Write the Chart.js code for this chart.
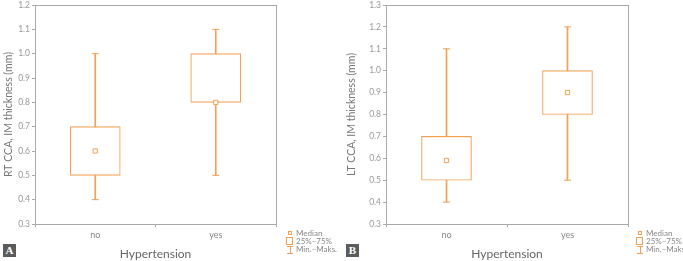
<!DOCTYPE html>
<html>
<head>
<meta charset="utf-8">
<script src="https://cdn.jsdelivr.net/npm/chart.js@4/dist/chart.umd.min.js"></script>
<style>
  body { margin: 0; background: #fff; width: 683px; height: 261px; position: relative; overflow: hidden; font-family: Lato, "Open Sans", sans-serif; }
  .wrap { position: absolute; top: 0; height: 261px; }
  .legend { position: absolute; font-size: 8px; color: #888; line-height: 8px; }
  .legend div { position: relative; height: 8px; padding-left: 10px; white-space: nowrap; }
  .mk { position: absolute; border: 1px solid #F2A154; box-sizing: border-box; }
  .tag { position: absolute; top: 244px; width: 13px; height: 13px; background: #5b5b5b; color: #fff;
         font: bold 11px "Liberation Serif", serif; text-align: center; line-height: 13px; }
</style>
</head>
<body>
<div class="wrap" style="left:0;width:343px"><canvas id="chartA" width="343" height="261"></canvas></div>
<div class="wrap" style="left:343px;width:340px"><canvas id="chartB" width="340" height="261"></canvas></div>

<div class="tag" style="left:3px">A</div>
<div class="tag" style="left:346px">B</div>

<div class="legend" style="left:286px;top:229px" id="legA"></div>
<div class="legend" style="left:636px;top:229px" id="legB"></div>

<script>
const categories = ['no', 'yes'];

// RT CCA
const rtMin    = [0.4, 0.5];
const rtQ1     = [0.5, 0.8];
const rtMedian = [0.6, 0.8];
const rtQ3     = [0.7, 1.0];
const rtMax    = [1.0, 1.1];

// LT CCA
const ltMin    = [0.4, 0.5];
const ltQ1     = [0.5, 0.8];
const ltMedian = [0.59, 0.9];
const ltQ3     = [0.7, 1.0];
const ltMax    = [1.1, 1.2];

const legendLabels = ['Median', '25%\u201375%', 'Min.\u2013Maks.'];

const ORANGE = '#F2A154';
const AXIS = '#aaaaaa';

// plot frame round the chart area
const framePlugin = {
  id: 'frame',
  afterDraw(chart) {
    const a = chart.chartArea, ctx = chart.ctx;
    ctx.save();
    ctx.strokeStyle = AXIS;
    ctx.lineWidth = 1;
    ctx.strokeRect(Math.round(a.left) + 0.5, Math.round(a.top) + 0.5,
                   Math.round(a.right - a.left), Math.round(a.bottom - a.top));
    ctx.restore();
  }
};

function boxChart(id, yTitle, yMax, mins, q1, med, q3, maxs, yWidth, padRight) {
  return new Chart(document.getElementById(id), {
    data: {
      labels: categories,
      datasets: [
        { type: 'bar', data: categories.map((c, i) => [mins[i], maxs[i]]),
          backgroundColor: ORANGE, barThickness: 1, grouped: false, order: 4 },
        { type: 'bar', data: categories.map((c, i) => [q1[i], q3[i]]),
          backgroundColor: '#fff', borderColor: ORANGE, borderWidth: 1.1,
          borderSkipped: false, barThickness: 50, grouped: false, order: 3 },
        { type: 'line', data: mins, showLine: false, pointStyle: 'line',
          pointRadius: 3.5, borderColor: ORANGE, borderWidth: 1, order: 2 },
        { type: 'line', data: maxs, showLine: false, pointStyle: 'line',
          pointRadius: 3.5, borderColor: ORANGE, borderWidth: 1, order: 2 },
        { type: 'line', data: med, showLine: false, pointStyle: 'rect',
          pointRadius: 3, backgroundColor: '#fff', borderColor: ORANGE, borderWidth: 1, order: 1 }
      ]
    },
    options: {
      responsive: false,
      animation: false,
      events: [],
      layout: { padding: { left: 0, top: 3, right: padRight, bottom: 0 } },
      plugins: { legend: { display: false }, tooltip: { enabled: false } },
      scales: {
        x: {
          offset: true,
          grid: { display: true, drawOnChartArea: false, tickLength: 3, color: AXIS },
          border: { display: false },
          ticks: { color: '#888', font: { family: 'Lato', size: 9 }, padding: 3 },
          title: { display: true, text: 'Hypertension', color: '#666',
                   font: { family: 'Lato', size: 12 }, padding: 0 },
          afterFit: s => { s.height = 37; s.paddingLeft = 0; s.paddingRight = 0; }
        },
        y: {
          min: 0.3, max: yMax,
          grid: { display: true, drawOnChartArea: false, tickLength: 3, color: AXIS },
          border: { display: false },
          ticks: { stepSize: 0.1, color: '#999', font: { family: 'Lato', size: 8.5 }, padding: 2,
                   callback: v => v.toFixed(1) },
          title: { display: true, text: yTitle, color: '#777',
                   font: { family: 'Lato', size: 10.5 }, padding: { top: 2, bottom: 0 } },
          afterFit: s => { s.width = yWidth; s.paddingTop = 0; s.paddingBottom = 0; }
        }
      }
    },
    plugins: [framePlugin]
  });
}

boxChart('chartA', 'RT CCA, IM thickness (mm)', 1.2, rtMin, rtQ1, rtMedian, rtQ3, rtMax, 35, 67);
boxChart('chartB', 'LT CCA, IM thickness (mm)', 1.3, ltMin, ltQ1, ltMedian, ltQ3, ltMax, 43, 55);

// legend text with small drawn markers
function buildLegend(el) {
  const marks = [
    '<span class="mk" style="left:2px;top:2px;width:4px;height:4px"></span>',
    '<span class="mk" style="left:0;top:0;width:7px;height:8px"></span>',
    '<span class="mk" style="left:1px;top:1px;width:6px;height:0;border-width:1px 0 0 0"></span>' +
    '<span class="mk" style="left:4px;top:1px;width:0;height:8px;border-width:0 0 0 1px"></span>' +
    '<span class="mk" style="left:1px;top:8px;width:6px;height:0;border-width:1px 0 0 0"></span>'
  ];
  el.innerHTML = legendLabels.map((t, i) => '<div>' + marks[i] + t + '</div>').join('');
}
buildLegend(document.getElementById('legA'));
buildLegend(document.getElementById('legB'));
</script>
</body>
</html>
